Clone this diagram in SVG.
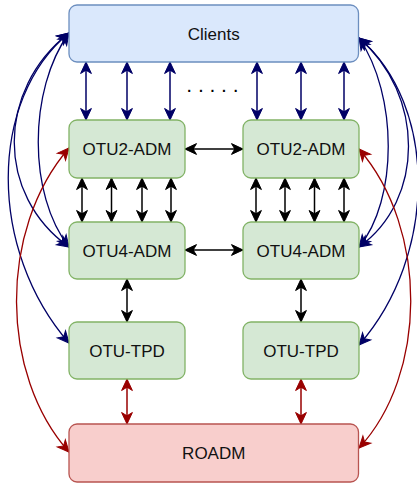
<svg xmlns="http://www.w3.org/2000/svg" width="417" height="487" viewBox="0 0 417 487">
  <style>
    .box text { font-family: "Liberation Sans", Arial, Helvetica, sans-serif; font-size: 17px; fill: #111111; text-anchor: middle; }
    .blue rect { fill: #dae8fc; stroke: #6c8ebf; stroke-width: 1.3; }
    .green rect { fill: #d5e8d4; stroke: #82b366; stroke-width: 1.3; }
    .red rect { fill: #f8cecc; stroke: #b85450; stroke-width: 1.3; }
    .navy { stroke: #000066; fill: none; stroke-width: 1.5; }
    .black { stroke: #000000; fill: none; stroke-width: 1.5; }
    .dred { stroke: #990000; fill: none; stroke-width: 1.5; }
    .curve { stroke-width: 1.3; }
    .navy { marker-start: url(#ahNavy); marker-end: url(#ahNavy); }
    .black { marker-start: url(#ahBlack); marker-end: url(#ahBlack); }
    .dred { marker-start: url(#ahRed); marker-end: url(#ahRed); }
    .dots { font-family: "Liberation Sans", Arial, sans-serif; font-size: 14px; font-weight: bold; fill: #000; letter-spacing: 7.7px; }
  </style>
  <defs>
    <marker id="ahNavy" markerUnits="userSpaceOnUse" viewBox="0 0 13 12" refX="12" refY="6" markerWidth="13" markerHeight="12" orient="auto-start-reverse" overflow="visible">
      <path d="M12,6 L0.5,0.6 L3.8,6 L0.5,11.4 Z" fill="#000066" stroke="#000066" stroke-width="1"/>
    </marker>
    <marker id="ahBlack" markerUnits="userSpaceOnUse" viewBox="0 0 13 12" refX="12" refY="6" markerWidth="13" markerHeight="12" orient="auto-start-reverse" overflow="visible">
      <path d="M12,6 L0.5,0.6 L3.8,6 L0.5,11.4 Z" fill="#000000" stroke="#000000" stroke-width="1"/>
    </marker>
    <marker id="ahRed" markerUnits="userSpaceOnUse" viewBox="0 0 13 12" refX="12" refY="6" markerWidth="13" markerHeight="12" orient="auto-start-reverse" overflow="visible">
      <path d="M12,6 L0.5,0.6 L3.8,6 L0.5,11.4 Z" fill="#990000" stroke="#990000" stroke-width="1"/>
    </marker>
  </defs>

  <!-- connectors -->
  <g id="connectors">
    <!-- Clients <-> OTU2-ADM -->
    <line class="navy" x1="86" y1="62" x2="86" y2="120"/>
    <line class="navy" x1="127" y1="62" x2="127" y2="120"/>
    <line class="navy" x1="170" y1="62" x2="170" y2="120"/>
    <line class="navy" x1="257" y1="62" x2="257" y2="120"/>
    <line class="navy" x1="301" y1="62" x2="301" y2="120"/>
    <line class="navy" x1="344" y1="62" x2="344" y2="120"/>

    <!-- OTU2-ADM <-> OTU4-ADM -->
    <line class="black" x1="82" y1="178" x2="82" y2="222"/>
    <line class="black" x1="111.5" y1="178" x2="111.5" y2="222"/>
    <line class="black" x1="142" y1="178" x2="142" y2="222"/>
    <line class="black" x1="171" y1="178" x2="171" y2="222"/>
    <line class="black" x1="256" y1="178" x2="256" y2="222"/>
    <line class="black" x1="285" y1="178" x2="285" y2="222"/>
    <line class="black" x1="314.5" y1="178" x2="314.5" y2="222"/>
    <line class="black" x1="344" y1="178" x2="344" y2="222"/>

    <!-- horizontal links between the two stacks -->
    <line class="black" x1="185" y1="149" x2="243" y2="149"/>
    <line class="black" x1="185" y1="250" x2="243" y2="250"/>

    <!-- OTU4-ADM <-> OTU-TPD -->
    <line class="black" x1="127" y1="279" x2="127" y2="322"/>
    <line class="black" x1="301" y1="279" x2="301" y2="322"/>

    <!-- OTU-TPD <-> ROADM -->
    <line class="dred" x1="127" y1="379" x2="127" y2="424"/>
    <line class="dred" x1="301" y1="379" x2="301" y2="424"/>

    <!-- left curved links from Clients -->
    <path class="navy curve" d="M69,33 C-12,100 -12,250 69,343"/>
    <path class="navy curve" d="M69,33 C-4,90 -4,195 69,247"/>
    <path class="navy curve" d="M69,33 C28,90 28,195 69,247"/>

    <!-- right curved links from Clients -->
    <path class="navy curve" d="M359,38 C438,105 438,255 359,345"/>
    <path class="navy curve" d="M359,38 C425,95 425,200 359,247"/>
    <path class="navy curve" d="M359,38 C398,95 398,200 359,247"/>

    <!-- ROADM <-> OTU2-ADM -->
    <path class="dred curve" d="M69,148 C-2,230 0,375 69,452"/>
    <path class="dred curve" d="M359,149 C429,230 427,375 359,448"/>

    <text class="dots" x="187.3" y="92">.....</text>
  </g>

  <!-- nodes -->
  <g id="clients" class="box blue">
    <rect x="69" y="5" width="289.5" height="57" rx="8"/>
    <text x="213.75" y="39.5">Clients</text>
  </g>
  <g id="otu2-adm-left" class="box green">
    <rect x="69" y="120" width="116" height="58" rx="8"/>
    <text x="127" y="155">OTU2-ADM</text>
  </g>
  <g id="otu2-adm-right" class="box green">
    <rect x="243" y="120" width="116" height="58" rx="8"/>
    <text x="301" y="155">OTU2-ADM</text>
  </g>
  <g id="otu4-adm-left" class="box green">
    <rect x="69" y="222" width="116" height="57" rx="8"/>
    <text x="127" y="256.5">OTU4-ADM</text>
  </g>
  <g id="otu4-adm-right" class="box green">
    <rect x="243" y="222" width="116" height="57" rx="8"/>
    <text x="301" y="256.5">OTU4-ADM</text>
  </g>
  <g id="otu-tpd-left" class="box green">
    <rect x="69" y="322" width="116" height="57" rx="8"/>
    <text x="127" y="356.5">OTU-TPD</text>
  </g>
  <g id="otu-tpd-right" class="box green">
    <rect x="243" y="322" width="116" height="57" rx="8"/>
    <text x="301" y="356.5">OTU-TPD</text>
  </g>
  <g id="roadm" class="box red">
    <rect x="69" y="424" width="289.5" height="58" rx="8"/>
    <text x="213.75" y="459">ROADM</text>
  </g>
</svg>
